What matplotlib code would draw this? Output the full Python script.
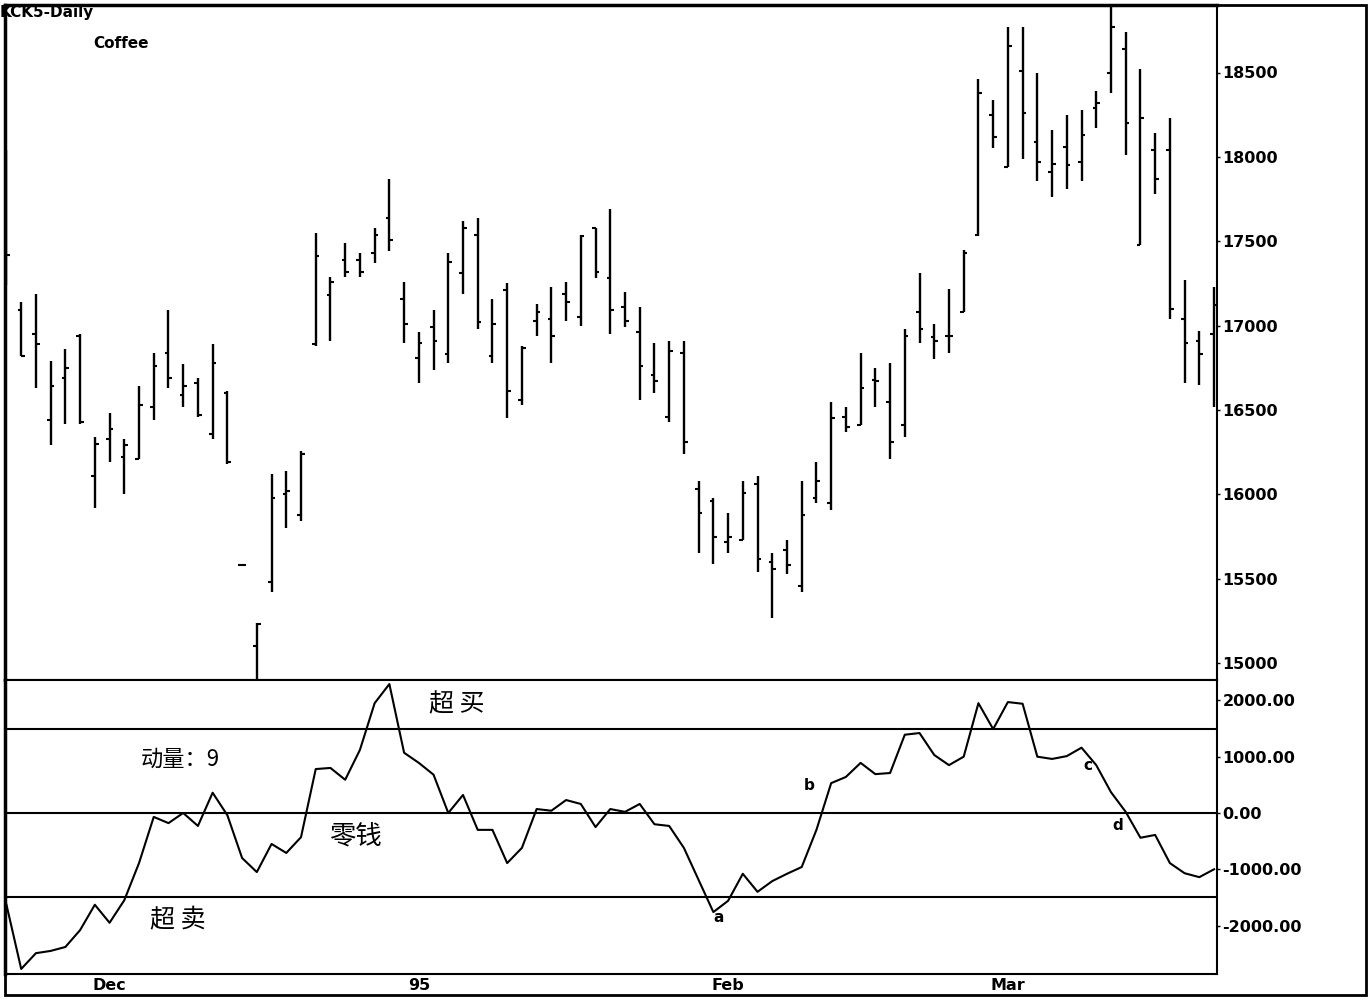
import matplotlib.pyplot as plt
import numpy as np
from matplotlib.patches import Rectangle

# daily bars, KCK5 coffee
highs = [18040, 17140, 17190, 16790, 16860, 16950, 16340, 16480, 16330, 16640,
         16840, 17090, 16770, 16690, 16890, 16610, 15580, 15240, 16120, 16140,
         16260, 17550, 17290, 17490, 17430, 17580, 17870, 17260, 16960, 17090,
         17430, 17620, 17640, 17160, 17250, 16880, 17130, 17230, 17260, 17540,
         17580, 17690, 17200, 17110, 16900, 16910, 16910, 16080, 15980, 15890,
         16080, 16110, 15650, 15730, 16080, 16190, 16550, 16520, 16840, 16750,
         16780, 16980, 17310, 17010, 17220, 17450, 18460, 18340, 18770, 18770,
         18500, 18160, 18250, 18280, 18390, 18900, 18740, 18520, 18140, 18230,
         17270, 16970, 17230]
lows = [17240, 16820, 16630, 16290, 16420, 16420, 15920, 16190, 16000, 16210,
        16440, 16630, 16520, 16460, 16330, 16180, 15580, 14900, 15420, 15800,
        15840, 16880, 16910, 17290, 17290, 17370, 17440, 16900, 16660, 16740,
        16780, 17190, 16980, 16780, 16450, 16530, 16940, 16780, 17030, 17000,
        17280, 16950, 16990, 16560, 16600, 16430, 16240, 15650, 15590, 15650,
        15730, 15540, 15270, 15530, 15420, 15950, 15910, 16370, 16410, 16520,
        16210, 16340, 16900, 16800, 16840, 17080, 17530, 18050, 17940, 17990,
        17860, 17760, 17810, 17860, 18170, 18380, 18010, 17480, 17780, 17040,
        16660, 16650, 16520]
opens = [17700, 17090, 16950, 16440, 16690, 16940, 16110, 16330, 16220, 16210,
         16520, 16840, 16590, 16660, 16360, 16600, 15580, 15100, 15480, 16000,
         15880, 16890, 17180, 17390, 17390, 17430, 17640, 17160, 16810, 16990,
         16830, 17310, 17540, 16820, 17210, 16560, 17030, 17040, 17190, 17050,
         17580, 17280, 17110, 16960, 16710, 16460, 16840, 16030, 15960, 15720,
         15730, 16060, 15600, 15670, 15460, 15980, 15950, 16460, 16410, 16680,
         16550, 16410, 17080, 16930, 16940, 17080, 17540, 18250, 17940, 18510,
         18090, 17910, 18060, 17970, 18290, 18500, 18640, 17480, 18040, 18040,
         17040, 16910, 16950]
closes = [17420, 16820, 16890, 16640, 16750, 16430, 16300, 16390, 16290, 16530,
          16760, 16690, 16640, 16470, 16780, 16190, 15580, 15230, 15980, 16020,
          16240, 17410, 17260, 17320, 17320, 17540, 17510, 17010, 16900, 16910,
          17380, 17580, 17020, 17010, 16610, 16870, 17080, 16940, 17140, 17530,
          17320, 17090, 17030, 16760, 16670, 16850, 16310, 15890, 15750, 15750,
          16010, 15620, 15560, 15580, 15880, 16080, 16450, 16400, 16630, 16670,
          16310, 16940, 16980, 16910, 16940, 17430, 18380, 18120, 18660, 18260,
          17970, 17960, 17950, 18130, 18320, 18770, 18200, 18230, 17870, 17100,
          16900, 16830, 17120]

# 9-day momentum
momentum = [-1630, -2770, -2490, -2450, -2380, -2080, -1630, -1950, -1550, -890,
            -70, -180, 0, -230, 360, -40, -800, -1050, -550, -710,
            -430, 780, 800, 590, 1120, 1950, 2290, 1070, 890, 680,
            0, 320, -300, -300, -890, -620, 70, 40, 230, 160,
            -250, 70, 20, 160, -200, -230, -620, -1190, -1760, -1560,
            -1080, -1400, -1210, -1080, -960, -300, 530, 640, 890, 690,
            710, 1390, 1420, 1030, 850, 1000, 1950, 1490, 1970, 1940,
            1000, 960, 1010, 1160, 850, 370, 20, -440, -390, -890,
            -1070, -1140, -1000]

month_pos = [7, 28, 49, 68]
month_labels = ['Dec', '95', 'Feb', 'Mar']
price_ticks = [15000, 15500, 16000, 16500, 17000, 17500, 18000, 18500]
mom_ticks = [-2000, -1000, 0, 1000, 2000]
mom_levels = [1500, 0, -1500]

W, H = 1370, 1000


def box(x0, y0, x1, y1):
    # pixel box -> figure fraction rect
    return [x0 / W, 1 - y1 / H, (x1 - x0) / W, (y1 - y0) / H]


def px(x, y):
    return x / W, 1 - y / H


cjk = ['Noto Sans CJK SC', 'DejaVu Sans']

fig = plt.figure(figsize=(13.7, 10), dpi=100)
ax1 = fig.add_axes(box(5, 5, 1217, 680))
ax2 = fig.add_axes(box(5, 680, 1217, 974))

x = np.arange(len(highs))

# price bars
ax1.vlines(x, lows, highs, color='black', lw=1.7)
ax1.hlines(opens, x - 0.25, x, color='black', lw=1.5)
ax1.hlines(closes, x, x + 0.25, color='black', lw=1.5)
ax1.set_xlim(-0.1, 82.2)
ax1.set_ylim(14900, 18900)
ax1.set_xticks([])
ax1.yaxis.tick_right()
ax1.set_yticks(price_ticks)
ax1.set_yticklabels([str(t) for t in price_ticks])

# momentum
ax2.plot(x, momentum, color='black', lw=1.5)
for lv in mom_levels:
    ax2.axhline(lv, color='black', lw=1.5)
ax2.set_xlim(-0.1, 82.2)
ax2.set_ylim(-2860, 2362)
ax2.yaxis.tick_right()
ax2.set_yticks(mom_ticks)
ax2.set_yticklabels(['%.2f' % t for t in mom_ticks])
ax2.set_xticks(month_pos)
ax2.set_xticklabels(month_labels)
ax2.tick_params(axis='x', length=0, pad=3)

for ax in (ax1, ax2):
    ax.tick_params(axis='y', length=2.5, width=1, pad=1.5)
    for lab in ax.get_yticklabels() + ax.get_xticklabels():
        lab.set_fontsize(11.5)
        lab.set_fontweight('bold')
    ax.spines['left'].set_linewidth(2.5)
    ax.spines['right'].set_linewidth(1.5)
    ax.spines['top'].set_linewidth(1.5)
    ax.spines['bottom'].set_linewidth(1.5)
ax1.spines['top'].set_linewidth(2.5)

# outer frame
fig.add_artist(Rectangle(px(5, 995), (1366 - 5) / W, (995 - 5) / H,
                         transform=fig.transFigure, fill=False,
                         edgecolor='black', lw=2))

fig.text(*px(0, 12), 'KCK5-Daily', fontsize=11, fontweight='bold', va='center', ha='left')
fig.text(*px(93, 43), 'Coffee', fontsize=11, fontweight='bold', va='center', ha='left')

fig.text(*px(457, 704), '超 买', family=cjk, fontsize=18, fontweight='medium',
         va='center', ha='center')
fig.text(*px(180, 759), '动量：9', family=cjk, fontsize=16, fontweight='medium',
         va='center', ha='center')
fig.text(*px(355, 836), '零钱', family=cjk, fontsize=19, fontweight='medium',
         va='center', ha='center')
fig.text(*px(178, 920), '超 卖', family=cjk, fontsize=18, fontweight='medium',
         va='center', ha='center')

for lab, (lx, ly) in zip(['a', 'b', 'c', 'd'],
                         [(719, 918), (809, 786), (1088, 765), (1118, 825)]):
    fig.text(*px(lx, ly), lab, fontsize=11, fontweight='bold', va='center', ha='center')

fig.savefig('out.png', dpi=100)
